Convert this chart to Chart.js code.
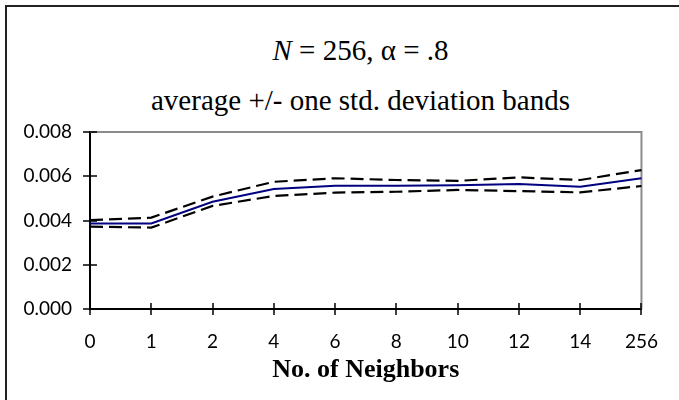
<!DOCTYPE html>
<html>
<head>
<meta charset="utf-8">
<script src="https://cdn.jsdelivr.net/npm/chart.js@4"></script>
<style>
  html, body { margin: 0; padding: 0; background: #fff; overflow: hidden; }
  #wrap { position: relative; width: 679px; height: 400px; }
  #frame { position: absolute; left: 5px; top: 5px; width: 720px; height: 440px;
           border-left: 2px solid #222; border-top: 2px solid #222; }
  .t { position: absolute; left: 0; width: 721px; text-align: center; white-space: nowrap;
       font-family: "Liberation Serif", "Times New Roman", serif; font-size: 29px; line-height: 30px; color: #000; }
  #chart { position: absolute; left: 0; top: 0; }
</style>
</head>
<body>
<div id="wrap">
  <div id="frame"></div>
  <div class="t" style="top:35px"><i>N</i> = 256, &alpha; = .8</div>
  <div class="t" style="top:85px">average +/- one std. deviation bands</div>
  <canvas id="chart" width="679" height="400"></canvas>
</div>
<script>
  const neighbors = ['0', '1', '2', '4', '6', '8', '10', '12', '14', '256'];
  const average = [0.00387, 0.00387, 0.00485, 0.00542, 0.00557, 0.00557, 0.00559, 0.00565, 0.00553, 0.00591];
  const upperBand = [0.00402, 0.00413, 0.00508, 0.00575, 0.00591, 0.00583, 0.00579, 0.00595, 0.00583, 0.00628];
  const lowerBand = [0.00372, 0.00368, 0.00466, 0.00511, 0.00526, 0.00530, 0.00538, 0.00533, 0.00527, 0.00556];
  const yMin = 0;
  const yMax = 0.008;
  const yStep = 0.002;

  const tickFont = { family: 'Lato, "DejaVu Sans", sans-serif', size: 19 };

  // gray top/right edges of the plot box + tick marks that cross the axes
  const plotBox = {
    id: 'plotBox',
    beforeDatasetsDraw(chart) {
      const ctx = chart.ctx, a = chart.chartArea;
      ctx.save();
      ctx.strokeStyle = '#8c8c8c';
      ctx.lineWidth = 2;
      ctx.beginPath();
      ctx.moveTo(a.left, a.top);
      ctx.lineTo(a.right, a.top);
      ctx.lineTo(a.right, a.bottom);
      ctx.stroke();
      ctx.restore();
    },
    afterDraw(chart) {
      const ctx = chart.ctx, a = chart.chartArea;
      const x = chart.scales.x, y = chart.scales.y;
      ctx.save();
      ctx.strokeStyle = '#000';
      ctx.lineWidth = 1.5;
      ctx.beginPath();
      x.ticks.forEach(function (t, i) {
        const px = Math.round(x.getPixelForTick(i));
        ctx.moveTo(px, a.bottom - 6);
        ctx.lineTo(px, a.bottom + 6);
      });
      y.ticks.forEach(function (t, i) {
        const py = Math.round(y.getPixelForTick(i));
        ctx.moveTo(a.left - 7, py);
        ctx.lineTo(a.left + 7, py);
      });
      ctx.stroke();
      ctx.restore();
    },
  };

  new Chart(document.getElementById('chart'), {
    type: 'line',
    data: {
      labels: neighbors,
      datasets: [
        { label: 'average', data: average, borderColor: '#000080', borderWidth: 2, pointRadius: 0, tension: 0, order: 0 },
        { label: '+1 sd', data: upperBand, borderColor: '#000', borderWidth: 2.2, borderDash: [13, 6], pointRadius: 0, tension: 0, order: 1 },
        { label: '-1 sd', data: lowerBand, borderColor: '#000', borderWidth: 2.2, borderDash: [13, 6], pointRadius: 0, tension: 0, order: 1 },
      ],
    },
    options: {
      responsive: false,
      animation: false,
      layout: { padding: { top: 132, right: 31, left: 0, bottom: 0 } },
      plugins: { legend: { display: false }, tooltip: { enabled: false } },
      scales: {
        x: {
          offset: false,
          grid: { drawOnChartArea: false, drawTicks: false },
          border: { color: '#000', width: 2 },
          ticks: { color: '#000', font: tickFont, padding: 21, maxRotation: 0, autoSkip: false },
          title: { display: true, text: 'No. of Neighbors', color: '#000',
                   font: { family: '"Liberation Serif", "Times New Roman", serif', size: 26, weight: 'bold' },
                   padding: { top: 0, bottom: 14 } },
          afterFit: function (s) { s.height = 91; },
        },
        y: {
          min: yMin,
          max: yMax,
          grid: { drawOnChartArea: false, drawTicks: false },
          border: { color: '#000', width: 2 },
          ticks: { stepSize: yStep, color: '#000', font: tickFont, padding: 18,
                   callback: function (v) { return v.toFixed(3); } },
          afterFit: function (s) { s.width = 90; },
        },
      },
    },
    plugins: [plotBox],
  });
</script>
</body>
</html>
